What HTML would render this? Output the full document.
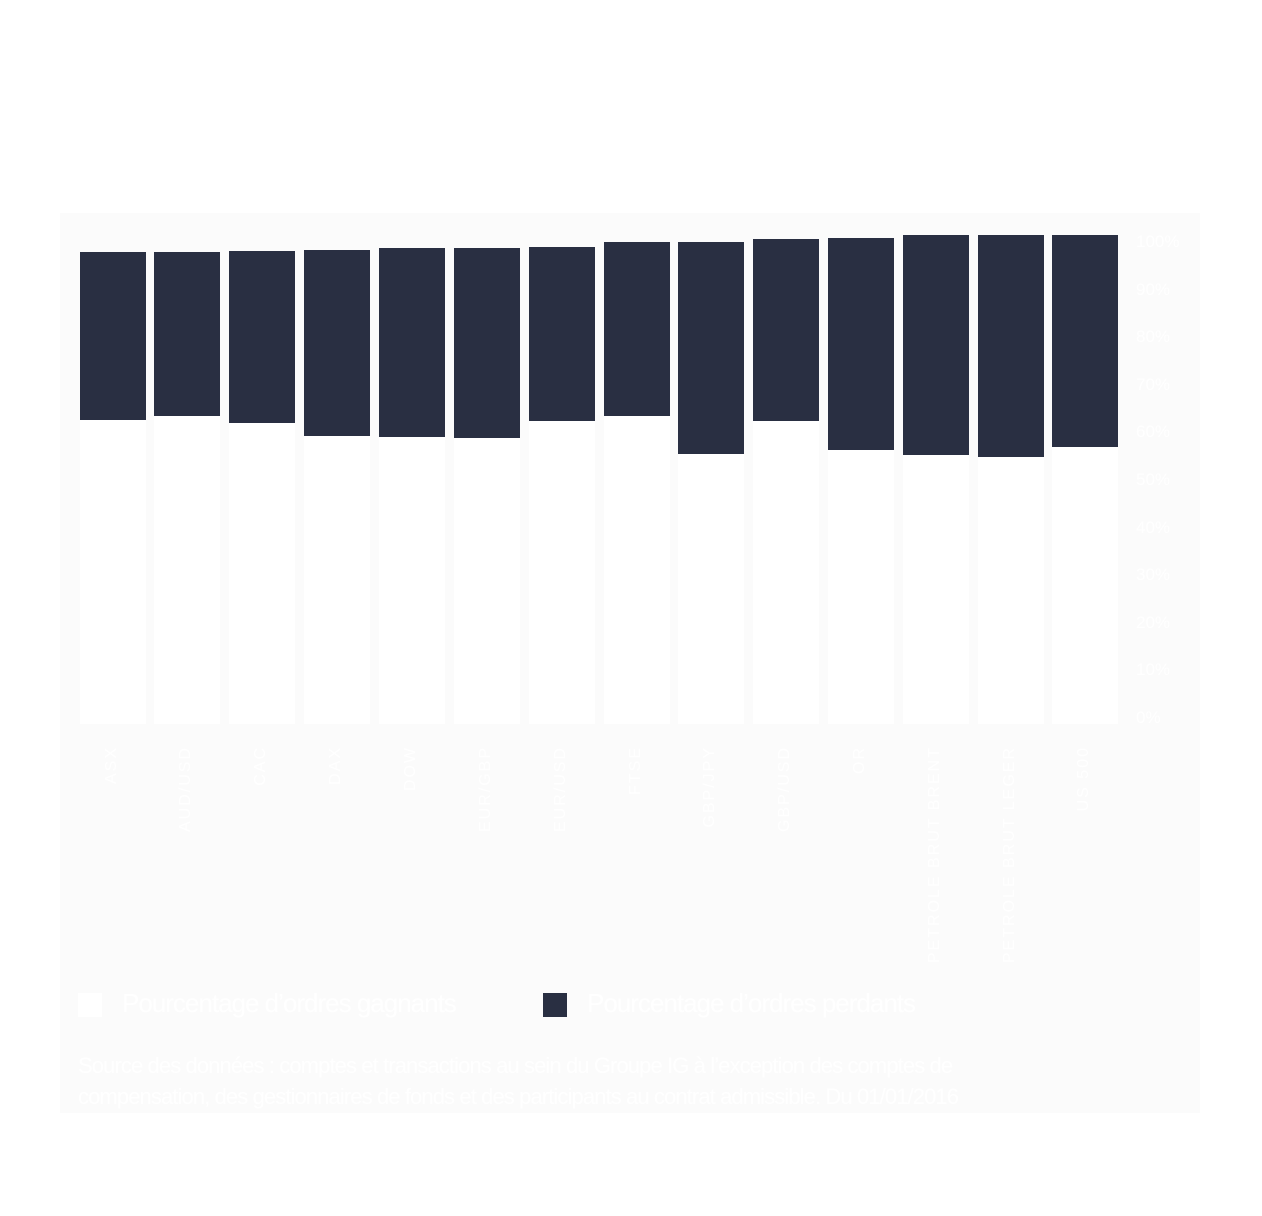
<!DOCTYPE html>
<html><head><meta charset="utf-8"><style>
body{margin:0;width:1262px;height:1216px;background:#fff;font-family:"Liberation Sans",sans-serif;position:relative;overflow:hidden}
#p{position:absolute;left:60px;top:213px;width:1140px;height:900px;background:#fbfbfb}
.b{position:absolute;width:66px;background:#fff}
.d{position:absolute;width:66px;background:#292f42}
.y{position:absolute;left:1136px;color:#fff;font-size:17px}
.x{position:absolute;top:746px;color:#fff;font-size:16px;letter-spacing:2px;writing-mode:vertical-rl;transform:rotate(180deg);white-space:nowrap}
.t{position:absolute;color:#fff}
</style></head><body>
<div id="p"></div>
<div id="c"></div>
<div class="t" style="left:78px;top:993px;width:24px;height:24px;background:#fff"></div>
<div class="t" style="left:122px;top:988px;font-size:26px;letter-spacing:-1px">Pourcentage d’ordres gagnants</div>
<div class="t" style="left:543px;top:993px;width:24px;height:24px;background:#292f42"></div>
<div class="t" style="left:587px;top:988px;font-size:26px;letter-spacing:-1px">Pourcentage d’ordres perdants</div>
<div class="t" style="left:78px;top:1050px;font-size:22px;line-height:31px;white-space:nowrap;letter-spacing:-0.9px">Source des données : comptes et transactions au sein du Groupe IG à l’exception des comptes de<br>compensation, des gestionnaires de fonds et des participants au contrat admissible. Du 01/01/2016</div>
<script>
var d=[[80,252,420,"ASX"],[154,252,416,"AUD/USD"],[229,251,423,"CAC"],[304,250,436,"DAX"],[379,248,437,"DOW"],[454,248,438,"EUR/GBP"],[529,247,421,"EUR/USD"],[604,242,416,"FTSE"],[678,242,454,"GBP/JPY"],[753,239,421,"GBP/USD"],[828,238,450,"OR"],[903,235,455,"PETROLE BRUT BRENT"],[978,235,457,"PETROLE BRUT LEGER"],[1052,235,447,"US 500"]];
var h="";
d.forEach(function(a){h+='<div class="b" style="left:'+a[0]+'px;top:'+a[1]+'px;height:'+(724-a[1])+'px"></div><div class="d" style="left:'+a[0]+'px;top:'+a[1]+'px;height:'+(a[2]-a[1])+'px"></div><div class="x" style="left:'+(a[0]+23)+'px">'+a[3]+'</div>';});
for(var i=0;i<=10;i++){h+='<div class="y" style="top:'+(232+(10-i)*47.6)+'px">'+(i*10)+'%</div>';}
document.getElementById("c").innerHTML=h;
</script>
</body></html>
